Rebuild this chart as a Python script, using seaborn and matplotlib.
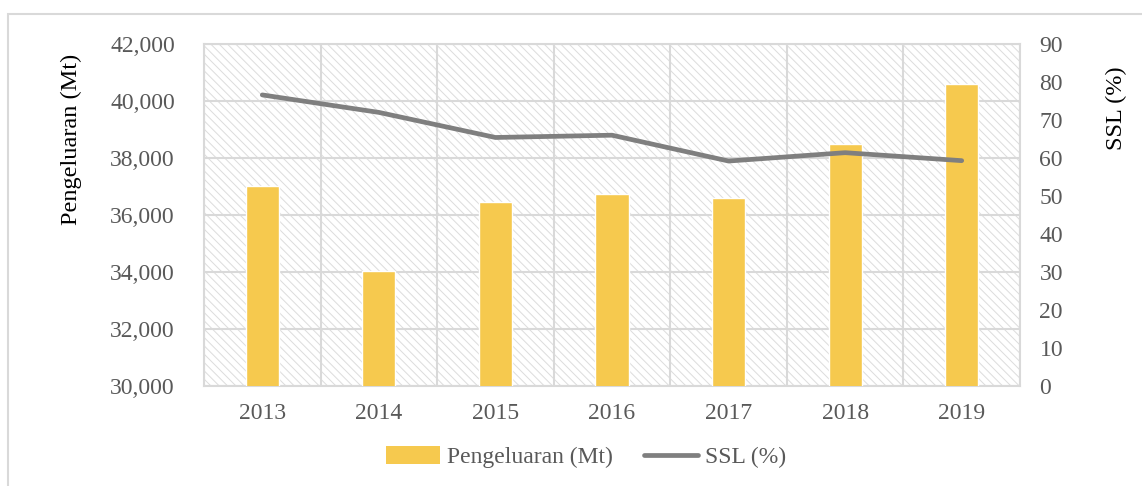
import numpy as np
import seaborn as sns
import matplotlib.pyplot as plt
from matplotlib.patches import Patch, Rectangle
from matplotlib.lines import Line2D
from matplotlib.ticker import FuncFormatter, FixedLocator

# data
years = ['2013', '2014', '2015', '2016', '2017', '2018', '2019']
pengeluaran = [37000, 34050, 36450, 36750, 36600, 38500, 40600]
ssl = [76.6, 72.0, 65.4, 66.0, 59.2, 61.4, 59.3]

bar_color = '#f6c94e'
line_color = '#7f7f7f'
grid_color = '#d9d9d9'
text_color = '#595959'

sns.set_theme(style='white')
plt.rcParams['font.family'] = ['Liberation Serif', 'DejaVu Serif']
plt.rcParams['hatch.linewidth'] = 0.7

fig = plt.figure(figsize=(11.42, 4.86), dpi=100)
ax = fig.add_axes([204 / 1142, 1 - 386 / 486, 816 / 1142, 342 / 486])

# outer light border of the figure
fig.patches.append(Rectangle((8 / 1142, -0.1), 1.2, 1 - 14 / 486 + 0.1, transform=fig.transFigure,
                             fill=False, edgecolor=grid_color, linewidth=1.5))

# hatched plot background
ax.set_facecolor('white')
ax.add_patch(Rectangle((0, 0), 1, 1, transform=ax.transAxes, facecolor='white',
                       edgecolor='#dcdcdc', hatch='\\\\\\\\', linewidth=0, zorder=0))

# bars
sns.barplot(x=years, y=pengeluaran, ax=ax, color=bar_color, width=0.285, saturation=1, zorder=3)
ax.set_ylim(30000, 42000)
ax.set_yticks(np.arange(30000, 42001, 2000))
ax.yaxis.set_major_formatter(FuncFormatter(lambda v, p: f'{int(v):,}'))
ax.set_xlim(-0.5, len(years) - 0.5)

# grid: horizontal at ticks, vertical at category boundaries
ax.xaxis.set_minor_locator(FixedLocator(np.arange(-0.5, len(years), 1)))
ax.grid(axis='y', which='major', color=grid_color, linewidth=1.5, zorder=1)
ax.grid(axis='x', which='minor', color=grid_color, linewidth=1.5, zorder=1)
ax.set_axisbelow(True)
for s in ax.spines.values():
    s.set_color(grid_color)
    s.set_linewidth(1.5)
ax.tick_params(axis='x', which='major', length=0, pad=12, labelsize=17, labelcolor=text_color)
ax.tick_params(axis='x', which='minor', length=6, color=grid_color, width=1.5, direction='out')
ax.tick_params(axis='y', length=0, pad=21, labelsize=17, labelcolor=text_color)
ax.set_ylabel('Pengeluaran (Mt)', fontsize=17.5, color='black')
ax.yaxis.set_label_coords(-0.1495, 0.72)

# SSL line on the secondary axis
ax2 = ax.twinx()
sns.pointplot(x=years, y=ssl, ax=ax2, color=line_color, markers='', linewidth=3.4, errorbar=None)
for ln in ax2.lines:
    ln.set_solid_capstyle('round')
    ln.set_solid_joinstyle('round')
ax2.set_ylim(0, 90)
ax2.set_yticks(np.arange(0, 91, 10))
ax2.set_xlim(-0.5, len(years) - 0.5)
ax2.grid(False)
for s in ax2.spines.values():
    s.set_visible(False)
ax2.tick_params(axis='y', length=0, pad=14, labelsize=17, labelcolor=text_color)
ax2.set_ylabel('SSL (%)', fontsize=17.5, color='black')
ax2.yaxis.set_label_coords(1.105, 0.813)

handles = [Patch(facecolor=bar_color, edgecolor='none'),
           Line2D([0], [0], color=line_color, linewidth=3.4, solid_capstyle='round')]
leg = fig.legend(handles, ['Pengeluaran (Mt)', 'SSL (%)'], loc='center', bbox_to_anchor=(0.513, 1 - 457 / 486),
                 ncol=2, frameon=False, fontsize=17, handlelength=2.3, handleheight=0.8,
                 columnspacing=1.3, handletextpad=0.3)
for t in leg.get_texts():
    t.set_color(text_color)

fig.savefig('out.png', dpi=100)
